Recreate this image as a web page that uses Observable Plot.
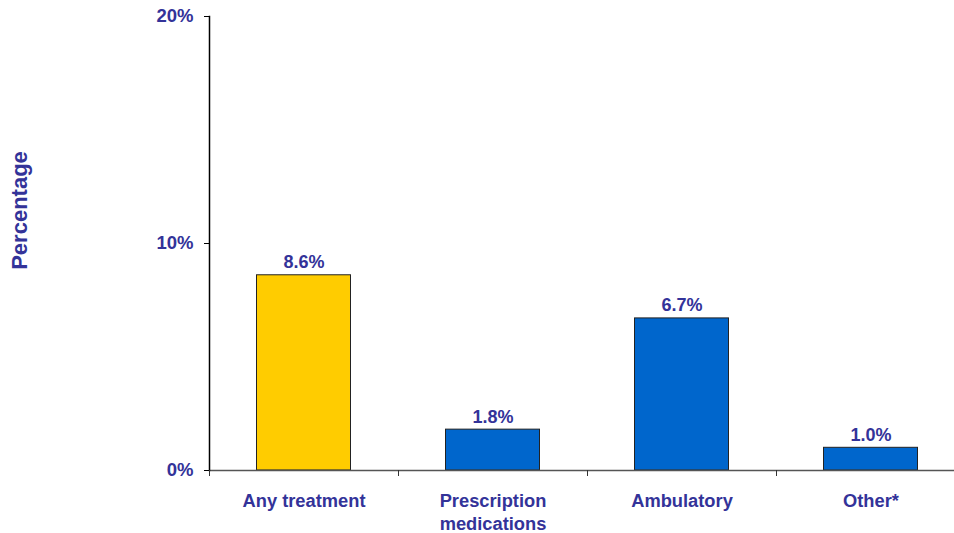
<!DOCTYPE html>
<html>
<head>
<meta charset="utf-8">
<script src="https://cdn.jsdelivr.net/npm/d3@7"></script>
<script src="https://cdn.jsdelivr.net/npm/@observablehq/plot@0.6"></script>
<style>
  html, body { margin: 0; padding: 0; background: #fff; }
</style>
</head>
<body>
<div id="chart"></div>
<script>
const categories = ["Any treatment", "Prescription\nmedications", "Ambulatory", "Other*"];
const values = [8.6, 1.8, 6.7, 1.0];
const barColors = ["#FFCC00", "#0066CC", "#0066CC", "#0066CC"];
const yTicks = [0, 10, 20];
const yLabel = "Percentage";

const data = categories.map((c, i) => ({category: c, value: values[i], color: barColors[i]}));
const textColor = "#333399";
const font = "'Liberation Sans', Arial, Helvetica, sans-serif";

const chart = Plot.plot({
  width: 954,
  height: 533,
  marginLeft: 209,
  marginTop: 16,
  marginBottom: 63,
  marginRight: 0,
  style: {fontFamily: font, fontWeight: "bold", fontSize: "18px", background: "#fff", color: textColor},
  x: {domain: categories, range: [209, 965], padding: 0},
  y: {domain: [0, 20], ticks: yTicks},
  color: {type: "identity"},
  marks: [
    Plot.barY(data, {x: "category", y: "value", fill: "color", stroke: "#222", strokeWidth: 1, insetLeft: 47.5, insetRight: 47.5}),
    Plot.ruleY([0], {stroke: "#555", strokeWidth: 1.5}),
    Plot.frame({anchor: "left", stroke: "#000", strokeWidth: 1.5}),
    Plot.axisY({ticks: yTicks, tickSize: 5, tickPadding: 11, tickFormat: d => d + "%", fill: textColor, stroke: "#000", label: null, fontSize: 18.5, fontWeight: "bold"}),
    Plot.axisX({tickSize: 6, tickFormat: () => "", dx: -94.5, stroke: "#333", label: null}),
    Plot.axisX({tickSize: 0, tickPadding: 20.5, lineHeight: 1.25, fill: textColor, label: null, fontSize: 18.3, fontWeight: "bold"}),
    Plot.text(data, {x: "category", y: "value", text: d => d.value.toFixed(1) + "%", lineAnchor: "bottom", dy: -7, fill: textColor, fontSize: 18, fontWeight: "bold"}),
    Plot.text([yLabel], {frameAnchor: "left", textAnchor: "middle", rotate: -90, dx: -190, dy: -33, fill: textColor, fontSize: 22, fontWeight: "bold"})
  ]
});
document.getElementById("chart").append(chart);
</script>
</body>
</html>
